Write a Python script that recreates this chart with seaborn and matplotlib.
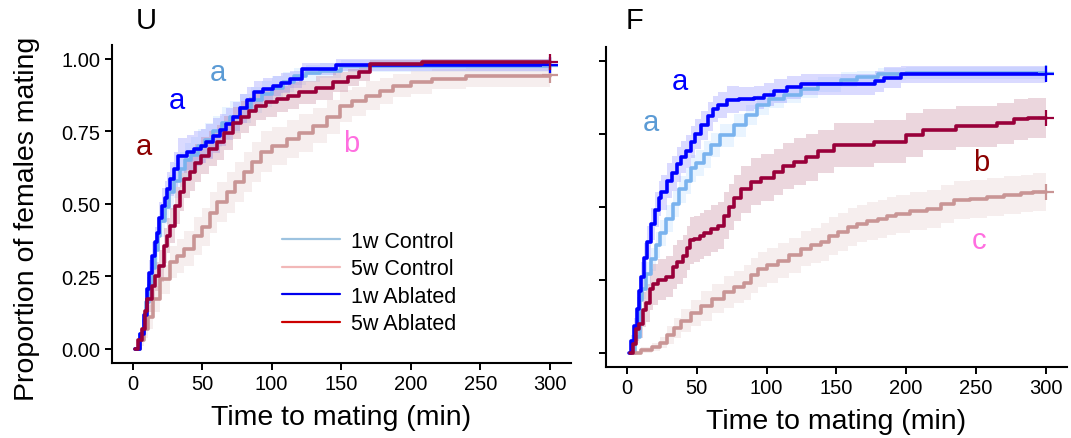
import numpy as np
import pandas as pd
import matplotlib
matplotlib.use("Agg")
import matplotlib.pyplot as plt
from matplotlib.lines import Line2D
import seaborn as sns

# ---------------- data ----------------
groups = ["1w Control", "5w Control", "1w Ablated", "5w Ablated"]

# Panel U
U_ctl1_t = [2, 5, 8, 10, 12, 14, 16, 18, 20, 23, 26, 30, 34, 38, 42, 47, 52, 58, 64, 70,
            77, 85, 93, 100, 108, 116, 125, 135, 150, 300]
U_ctl1_p = [0, .05, .10, .16, .22, .28, .34, .39, .44, .49, .54, .58, .62, .65, .67, .70, .72, .75, .78, .80,
            .83, .86, .88, .90, .92, .94, .95, .96, .975, .975]
U_ctl1_h = [0, .02, .03, .04, .045, .05, .05, .055, .055, .06, .06, .06, .06, .06, .06, .06, .06, .055, .055, .055,
            .05, .045, .045, .04, .035, .03, .03, .025, .02, .02]

U_ctl5_t = [3, 5, 8, 11, 15, 20, 27, 32, 37, 44, 50, 56, 61, 68, 74, 80, 86, 92, 100, 111,
            120, 130, 140, 149, 158, 168, 178, 187, 200, 215, 240, 300]
U_ctl5_p = [0, .03, .069, .11, .172, .24, .30, .32, .345, .39, .42, .47, .506, .54, .575, .61, .645, .68, .70, .724,
            .745, .77, .80, .839, .855, .873, .89, .908, .92, .93, .94, .945]
U_ctl5_h = [0, .02, .03, .04, .045, .05, .055, .06, .06, .065, .065, .07, .07, .07, .07, .07, .07, .07, .065, .065,
            .065, .06, .06, .055, .05, .05, .045, .04, .04, .035, .035, .03]

U_abl1_t = [2, 5, 8, 10.5, 12, 14, 16, 17.5, 19, 21, 23, 25, 27, 30, 33, 39, 44, 49, 53, 58,
            63, 67, 72, 77, 82, 87, 94, 101, 107, 113, 122, 146, 300]
U_abl1_p = [0, .05, .115, .207, .26, .32, .37, .40, .45, .494, .52, .55, .586, .62, .667, .678, .69, .70, .715, .736,
            .755, .775, .80, .83, .86, .885, .895, .908, .918, .93, .966, .98, .98]
U_abl1_h = [0, .02, .03, .04, .045, .05, .05, .055, .055, .06, .06, .06, .06, .06, .06, .06, .06, .06, .06, .06,
            .055, .055, .05, .05, .045, .04, .04, .035, .035, .03, .02, .02, .02]

U_abl5_t = [2, 4, 6.8, 9, 10.5, 14, 16, 18.8, 22.4, 25, 27, 30.7, 34.3, 37, 41, 45, 49, 55, 60.6, 66,
            72, 78, 84, 89, 96, 103.6, 112, 120, 132, 144, 155, 163, 171, 208, 300]
U_abl5_p = [0, .03, .069, .13, .172, .218, .25, .287, .356, .39, .425, .494, .54, .586, .61, .64, .667, .69, .712, .745,
            .78, .80, .82, .839, .85, .862, .874, .885, .90, .92, .937, .954, .983, .99, .99]
U_abl5_h = [0, .02, .03, .04, .045, .05, .05, .055, .06, .06, .06, .065, .065, .065, .065, .065, .065, .06, .06, .06,
            .055, .055, .05, .05, .05, .045, .045, .04, .04, .035, .03, .03, .015, .01, .01]

# Panel F
F_ctl1_t = [2, 5.5, 9, 11, 13.6, 17, 20.7, 24, 28, 33, 37.6, 42, 45.8, 49.5, 55, 60, 67, 76.6, 85, 93.5,
            102, 112.8, 125, 136.5, 153, 165, 180, 200, 300]
F_ctl1_p = [0, .055, .18, .22, .27, .32, .37, .41, .46, .51, .56, .59, .632, .65, .68, .712, .745, .78, .815, .85,
            .87, .885, .905, .92, .936, .945, .955, .96, .96]
F_ctl1_h = [0, .02, .03, .035, .04, .04, .045, .045, .045, .045, .045, .045, .045, .045, .045, .04, .04, .04, .035, .035,
            .03, .03, .03, .025, .025, .02, .02, .02, .02]

F_ctl5_t = [4, 10, 18, 24, 29, 34, 39, 46, 53, 61, 69.5, 77, 84, 89, 93.6, 100, 108, 116, 125, 132,
            139, 145, 151, 158, 165, 172, 180, 186, 193, 203, 215, 225, 234, 246, 258, 270, 282, 291, 300]
F_ctl5_p = [0, .01, .02, .035, .06, .085, .11, .135, .16, .185, .207, .225, .24, .265, .287, .30, .316, .335, .356, .368,
            .38, .40, .414, .43, .443, .452, .46, .468, .477, .485, .494, .51, .523, .528, .534, .54, .546, .55, .55]
F_ctl5_h = [0, .01, .015, .02, .03, .035, .04, .045, .05, .05, .055, .055, .06, .06, .06, .06, .06, .06, .06, .06,
            .065, .065, .065, .065, .065, .065, .065, .065, .065, .065, .065, .065, .065, .065, .065, .065, .065, .065, .065]

F_abl1_t = [1.5, 3, 5, 7, 8.6, 10, 12, 14.5, 17, 20, 22.8, 24.3, 28.8, 32, 36, 39, 42, 45.8, 49, 53,
            58, 62, 65, 72, 80, 91, 98, 105, 115, 124.5, 172, 178, 184, 196, 300]
F_abl1_p = [0, .04, .09, .15, .21, .26, .325, .38, .44, .49, .53, .55, .59, .615, .646, .67, .69, .724, .75, .78,
            .81, .835, .85, .868, .87, .874, .885, .897, .91, .92, .92, .93, .943, .954, .954]
F_abl1_h = [0, .02, .03, .04, .045, .05, .05, .055, .055, .06, .06, .06, .06, .06, .06, .055, .055, .055, .05, .05,
            .05, .045, .045, .045, .04, .04, .04, .04, .04, .035, .035, .035, .035, .03, .03]

F_abl5_t = [2.5, 4.5, 6.7, 8.6, 11.5, 13.6, 16.3, 19, 22, 28, 33, 36, 40, 43, 45, 48, 52, 55, 60, 65,
            69.5, 73, 76.7, 82, 88.6, 96, 105, 112, 119.6, 128, 136.5, 148.4, 177, 200, 212, 236, 265, 277, 287, 300]
F_abl5_p = [0, .03, .08, .10, .148, .17, .217, .235, .25, .26, .294, .31, .33, .36, .385, .39, .40, .41, .425, .436,
            .47, .50, .53, .56, .586, .60, .62, .64, .655, .67, .69, .713, .724, .747, .764, .776, .787, .80, .805, .805]
F_abl5_h = [0, .03, .04, .05, .06, .065, .07, .07, .07, .07, .075, .075, .075, .075, .08, .08, .08, .08, .08, .08,
            .08, .08, .08, .08, .08, .08, .08, .08, .08, .08, .075, .075, .075, .075, .07, .07, .07, .07, .07, .07]

# significance letters: (x, y, text, colour)
U_letters = [(8, 0.70, "a", "#8B0000"), (32, 0.86, "a", "#0000FF"),
             (61, 0.955, "a", "#5B9BD5"), (157, 0.71, "b", "#FF6EE0")]
F_letters = [(38, 0.93, "a", "#0000FF"), (17, 0.79, "a", "#5B9BD5"),
             (254, 0.655, "b", "#8B0000"), (252, 0.385, "c", "#FF6EE0")]

x_ticks = [0, 50, 100, 150, 200, 250, 300]
y_ticks = [0.00, 0.25, 0.50, 0.75, 1.00]
y_ticklabels = ["0.00", "0.25", "0.50", "0.75", "1.00"]

# ---------------- styling ----------------
line_colors = {"1w Control": "#7AB3EE", "5w Control": "#C99595",
               "1w Ablated": "#0000FF", "5w Ablated": "#99003A"}
band_colors = {"1w Control": "#B8DCFF", "5w Control": "#E8D0D0",
               "1w Ablated": "#8C8CFF", "5w Ablated": "#C07890"}
band_alpha = {"1w Control": 0.30, "5w Control": 0.35, "1w Ablated": 0.32, "5w Ablated": 0.30}
legend_colors = {"1w Control": "#9DC3E0", "5w Control": "#F2B8B8",
                 "1w Ablated": "#0000EE", "5w Ablated": "#CC0000"}

sns.set_theme(style="ticks")
plt.rcParams["font.family"] = ["Liberation Sans", "DejaVu Sans"]
plt.rcParams["text.color"] = "black"
plt.rcParams["axes.labelcolor"] = "black"
plt.rcParams["xtick.color"] = "black"
plt.rcParams["ytick.color"] = "black"

W, H = 1071, 439
fig = plt.figure(figsize=(W / 100, H / 100), dpi=100)


def px_axes(x0, y0, x1, y1):
    return fig.add_axes([x0 / W, 1 - y1 / H, (x1 - x0) / W, (y1 - y0) / H])


axU = px_axes(111.7, 45.5, 570.7, 364.3)
axF = px_axes(606, 47.5, 1066.7, 368.3)

panels = {
    "U": (axU, {"1w Control": (U_ctl1_t, U_ctl1_p, U_ctl1_h),
                "5w Control": (U_ctl5_t, U_ctl5_p, U_ctl5_h),
                "1w Ablated": (U_abl1_t, U_abl1_p, U_abl1_h),
                "5w Ablated": (U_abl5_t, U_abl5_p, U_abl5_h)}, U_letters),
    "F": (axF, {"1w Control": (F_ctl1_t, F_ctl1_p, F_ctl1_h),
                "5w Control": (F_ctl5_t, F_ctl5_p, F_ctl5_h),
                "1w Ablated": (F_abl1_t, F_abl1_p, F_abl1_h),
                "5w Ablated": (F_abl5_t, F_abl5_p, F_abl5_h)}, F_letters),
}

for name, (ax, series, letters) in panels.items():
    rows = []
    for g in groups:
        t, p, h = series[g]
        t = np.asarray(t, float)
        p = np.asarray(p, float)
        h = np.asarray(h, float)
        ax.fill_between(t, np.clip(p - h, 0, 1), np.clip(p + h, 0, 1), step="post",
                        color=band_colors[g], alpha=band_alpha[g], lw=0, zorder=1)
        rows.append(pd.DataFrame({"time": t, "prop": p, "group": g}))
    df = pd.concat(rows, ignore_index=True)
    sns.lineplot(data=df, x="time", y="prop", hue="group", hue_order=groups,
                 palette=line_colors, estimator=None, sort=True, legend=False,
                 drawstyle="steps-post", linewidth=2.6, ax=ax, zorder=3)
    # censor marks at end
    for g in groups:
        t, p, h = series[g]
        ax.plot([t[-1]], [p[-1]], marker="+", ms=12, mew=1.6,
                color=line_colors[g], zorder=4, ls="none")
    for (x, y, s, c) in letters:
        ax.text(x, y, s, color=c, fontsize=21, ha="center", va="center", zorder=5)

    ax.set_xlim(-15, 315)
    ax.set_ylim(-0.05, 1.05)
    ax.set_xticks(x_ticks)
    ax.set_xticklabels([str(v) for v in x_ticks])
    ax.set_yticks(y_ticks)
    ax.set_xlabel("Time to mating (min)", fontsize=20.5)
    ax.xaxis.set_label_coords(0.5, -0.127)
    ax.tick_params(axis="both", labelsize=14.5, length=5, width=1.4, color="black",
                   labelcolor="black", pad=3)
    for sp in ["left", "bottom"]:
        ax.spines[sp].set_linewidth(1.5)
        ax.spines[sp].set_color("black")
    sns.despine(ax=ax)
    ax.grid(False)
    ax.set_facecolor("white")

axU.set_yticklabels(y_ticklabels)
axU.set_ylabel("Proportion of females mating", fontsize=20.5)
axU.yaxis.set_label_coords(-0.156, 0.455)
axF.set_yticklabels([])
axF.set_ylabel("")

fig.text(146 / W, 1 - 21 / H, "U", fontsize=21, ha="center", va="center")
fig.text(634 / W, 1 - 21 / H, "F", fontsize=21, ha="center", va="center")

handles = [Line2D([0], [0], color=legend_colors[g], lw=1.6) for g in groups]
axU.legend(handles, groups, loc="center left", bbox_to_anchor=(282 / W, 1 - 283.4 / H),
           bbox_transform=fig.transFigure, frameon=False, fontsize=15.5,
           handlelength=2.7, handletextpad=0.5, labelspacing=0.3, borderpad=0,
           borderaxespad=0)

fig.savefig("out.png", dpi=100, facecolor="white")
